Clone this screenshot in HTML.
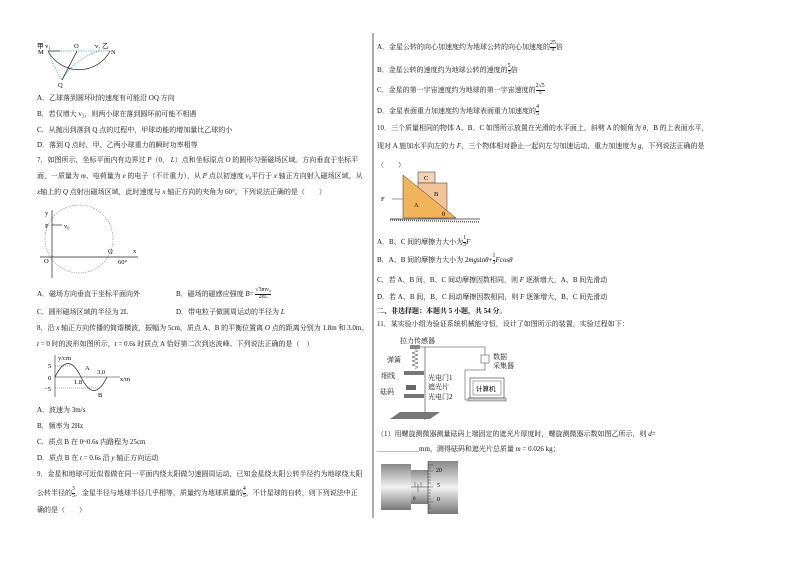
<!DOCTYPE html>
<html><head><meta charset="utf-8"><style>
body{margin:0;width:794px;height:562px;background:#fff;position:relative;overflow:hidden;font-family:"Liberation Serif","Noto Serif CJK SC","Noto Sans CJK SC",serif;color:#111}
.t{position:absolute;font-size:7px;white-space:nowrap;line-height:8px}
svg{position:absolute;left:0;top:0}
.fr{display:inline-block;vertical-align:middle;text-align:center;font-size:5.8px;line-height:5.8px}
.fr span{display:block}
.fr span:first-child{border-bottom:0.5px solid #222}
</style></head><body>
<svg width="794" height="562" font-family="Liberation Serif" font-size="6.5">
<line x1="373" y1="33" x2="373" y2="518" stroke="#333" stroke-width="0.8"/>
<path d="M48 51 A35 35 0 0 0 110 51" fill="none" stroke="#222" stroke-width="0.7"/>
<line x1="48" y1="51" x2="110" y2="51" stroke="#4aa" stroke-dasharray="1.5,1" stroke-width="0.7"/>
<path d="M48 51 Q55 70 62 80" fill="none" stroke="#4aa" stroke-dasharray="1.5,1" stroke-width="0.7"/>
<path d="M100 51 Q75 58 62 80" fill="none" stroke="#4aa" stroke-dasharray="1.5,1" stroke-width="0.7"/>
<line x1="77" y1="51" x2="62" y2="80" stroke="#222" stroke-width="0.8"/>
<line x1="48" y1="51" x2="60" y2="51" stroke="#222" stroke-width="0.7"/>
<text x="37" y="48">甲 v₁</text><text x="74" y="48">O</text><text x="95" y="48">v₂ 乙</text>
<text x="38" y="54">M</text><text x="111" y="54">N</text><text x="58" y="87">Q</text>
<circle cx="79" cy="239" r="34" fill="none" stroke="#888" stroke-dasharray="1.2,1.2" stroke-width="0.7"/>
<line x1="52" y1="210" x2="52" y2="278" stroke="#222" stroke-width="0.7"/>
<line x1="40" y1="257" x2="138" y2="257" stroke="#222" stroke-width="0.7"/>
<line x1="52" y1="225" x2="62" y2="225" stroke="#222" stroke-width="0.7"/>
<text x="45" y="215">y</text><text x="45" y="228">P</text><text x="64" y="228">v₀</text>
<text x="44" y="263">O</text><text x="108" y="253">Q</text><text x="133" y="253">x</text><text x="118" y="264">60°</text>
<line x1="55" y1="355" x2="55" y2="397" stroke="#222" stroke-width="0.6"/>
<line x1="55" y1="377" x2="120" y2="377" stroke="#222" stroke-width="0.6"/>
<path d="M55 377 Q68 350 81 377 Q94 404 107 377" fill="none" stroke="#222" stroke-width="0.7"/>
<line x1="55" y1="366" x2="70" y2="366" stroke="#555" stroke-dasharray="1,1" stroke-width="0.5"/>
<line x1="55" y1="388" x2="100" y2="388" stroke="#555" stroke-dasharray="1,1" stroke-width="0.5"/>
<text x="58" y="360">y/cm</text><text x="48" y="368">5</text><text x="48" y="380">0</text><text x="44" y="391">−5</text>
<text x="85" y="370">A</text><text x="97" y="374">3.0</text><text x="74" y="384">1.8</text><text x="120" y="381">x/m</text><text x="98" y="397">B</text>
<rect x="418" y="172" width="17" height="11" fill="#f3d3b5" stroke="#333" stroke-width="0.5"/>
<rect x="418" y="183" width="29" height="35" fill="#f2c49a" stroke="#333" stroke-width="0.5"/>
<polygon points="403,175 403,218 456,218" fill="#f2b45a" stroke="#333" stroke-width="0.5"/>
<line x1="390" y1="219" x2="480" y2="219" stroke="#333" stroke-width="0.8"/>
<line x1="390" y1="220" x2="480" y2="222" stroke="#555" stroke-dasharray="1,1" stroke-width="1.5"/>
<line x1="392" y1="199" x2="403" y2="199" stroke="#333" stroke-width="0.5"/>
<text x="424" y="180">C</text><text x="434" y="196">B</text><text x="414" y="207">A</text><text x="381" y="201">F</text><text x="442" y="216">θ</text>
<rect x="410" y="345" width="10" height="4" fill="#888"/>
<line x1="425" y1="347" x2="425" y2="420" stroke="#333" stroke-width="0.6"/>
<path d="M415 349 l3 2 l-6 2 l6 2 l-6 2 l6 2 l-6 2 l6 2 l-6 2 l6 2 l-3 2" fill="none" stroke="#333" stroke-width="0.5"/>
<line x1="420" y1="347" x2="485" y2="347" stroke="#333" stroke-width="0.5"/>
<line x1="485" y1="347" x2="485" y2="355" stroke="#333" stroke-width="0.5"/>
<rect x="481" y="355" width="8" height="8" fill="#fff" stroke="#333" stroke-width="0.5"/>
<path d="M485 363 V370 H465 V400 H470" fill="none" stroke="#333" stroke-width="0.5"/>
<rect x="470" y="378" width="34" height="20" fill="#fff" stroke="#333" stroke-width="0.6"/>
<rect x="473" y="381" width="28" height="14" fill="#fff" stroke="#333" stroke-width="0.4"/>
<rect x="468" y="398" width="38" height="3" fill="#ccc" stroke="#333" stroke-width="0.4"/>
<rect x="404" y="371" width="20" height="4" fill="#777"/>
<rect x="406" y="385" width="10" height="5" fill="#666"/>
<rect x="404" y="394" width="20" height="4" fill="#777"/>
<polygon points="390,419 400,412 440,412 430,419" fill="#777"/>
<text x="476" y="391" font-size="6.5">计算机</text>
</svg>

<div class="t" style="left:400px;top:337px">拉力传感器</div>
<div class="t" style="left:387px;top:356px">弹簧</div>
<div class="t" style="left:381px;top:372px">细线</div>
<div class="t" style="left:380px;top:388px">砝码</div>
<div class="t" style="left:428px;top:374px">光电门1</div>
<div class="t" style="left:428px;top:383px">遮光片</div>
<div class="t" style="left:428px;top:393px">光电门2</div>
<div class="t" style="left:493px;top:353px">数据</div>
<div class="t" style="left:493px;top:362px">采集器</div>

<svg width="794" height="562">
<defs><linearGradient id="g" x1="0" y1="0" x2="0" y2="1"><stop offset="0" stop-color="#888"/><stop offset="0.5" stop-color="#f2f2f2"/><stop offset="1" stop-color="#777"/></linearGradient></defs>
<rect x="381" y="464" width="30" height="46" fill="url(#g)"/>
<rect x="411" y="470" width="18" height="34" fill="url(#g)"/>
<rect x="428" y="461" width="30" height="53" fill="url(#g)"/>
<line x1="411" y1="487" x2="429" y2="487" stroke="#222" stroke-width="0.5"/>
<line x1="428" y1="461" x2="428" y2="514" stroke="#222" stroke-width="0.5"/>
<path d="M428 465h5M428 468h3M428 471h5M428 474h3M428 477h3M428 480h3M428 483h3M428 487h5M428 490h3M428 493h3M428 496h3M428 499h3M428 502h5M428 505h3M428 508h3" stroke="#222" stroke-width="0.4"/>
<path d="M415 487v-5M418 487v-3M421 487v-5M418 487v5" stroke="#222" stroke-width="0.4"/>
<text x="436" y="472" font-size="6" font-family="Liberation Serif">20</text>
<text x="437" y="487" font-size="6" font-family="Liberation Serif">5</text>
<text x="437" y="501" font-size="6" font-family="Liberation Serif">0</text>
<text x="413" y="500" font-size="5" font-family="Liberation Serif">0</text>
</svg>

<div class="t" style="left:37px;top:94px">A．乙球落到圆环时的速度有可能沿 OQ 方向</div>
<div class="t" style="left:37px;top:110px">B．若仅增大 v₂，则两小球在落到圆环前可能不相遇</div>
<div class="t" style="left:37px;top:126px">C．从抛出到落到 Q 点的过程中，甲球动能的增加量比乙球的小</div>
<div class="t" style="left:37px;top:141px">D．落到 Q 点时，甲、乙两小球重力的瞬时功率相等</div>
<div class="t" style="left:37px;top:156px">7．如图所示，坐标平面内有边界过 <i>P</i>（0， <i>L</i>）点和坐标原点 <i>O</i> 的圆形匀强磁场区域。方向垂直于坐标平</div>
<div class="t" style="left:37px;top:172px">面，一质量为 <i>m</i>、电荷量为 <i>e</i> 的电子（不计重力），从 <i>P</i> 点以初速度 <i>v</i>₀平行于 <i>x</i> 轴正方向射入磁场区域，从</div>
<div class="t" style="left:37px;top:188px"><i>x</i>轴上的 <i>Q</i> 点射出磁场区域，此时速度与 <i>x</i> 轴正方向的夹角为 60°。下列说法正确的是（　　）</div>
<div class="t" style="left:37px;top:290px">A．磁场方向垂直于坐标平面向外</div>
<div class="t" style="left:176px;top:288px">B．磁场的磁感应强度 <i>B</i>= <span class="fr"><span>√3mv₀</span><span>2eL</span></span></div>
<div class="t" style="left:37px;top:308px">C．圆形磁场区域的半径为 2L</div>
<div class="t" style="left:176px;top:308px">D．带电粒子做圆周运动的半径为 <i>L</i></div>
<div class="t" style="left:37px;top:324px">8．沿 <i>x</i> 轴正方向传播的简谐横波，振幅为 5cm，质点 A、B 的平衡位置离 <i>O</i> 点的距离分别为 1.8m 和 3.0m。</div>
<div class="t" style="left:37px;top:340px"><i>t</i> = 0 时的波形如图所示，<i>t</i> = 0.6s 时质点 A 恰好第二次到达波峰。下列说法正确的是（　）</div>
<div class="t" style="left:37px;top:406px">A．波速为 3m/s</div>
<div class="t" style="left:37px;top:422px">B．频率为 2Hz</div>
<div class="t" style="left:37px;top:438px">C．质点 B 在 0~0.6s 内路程为 25cm</div>
<div class="t" style="left:37px;top:454px">D．质点 B 在 <i>t</i> = 0.6s 沿 <i>y</i> 轴正方向运动</div>
<div class="t" style="left:37px;top:470px">9．金星和地球可近似看做在同一平面内绕太阳做匀速圆周运动，已知金星绕太阳公转半径约为地球绕太阳</div>
<div class="t" style="left:37px;top:487px">公转半径的<span class="fr"><span>3</span><span>5</span></span>，金星半径与地球半径几乎相等，质量约为地球质量的<span class="fr"><span>4</span><span>5</span></span>，不计星球的自转，则下列说法中正</div>
<div class="t" style="left:37px;top:506px">确的是（　　）</div>

<div class="t" style="left:377px;top:41px">A．金星公转的向心加速度约为地球公转的向心加速度的<span class="fr"><span>25</span><span>9</span></span>倍</div>
<div class="t" style="left:377px;top:64px">B．金星公转的速度约为地球公转的速度的<span class="fr"><span>5</span><span>3</span></span>倍</div>
<div class="t" style="left:377px;top:84px">C．金星的第一宇宙速度约为地球的第一宇宙速度的<span class="fr"><span>2√5</span><span>5</span></span></div>
<div class="t" style="left:377px;top:105px">D．金星表面重力加速度约为地球表面重力加速度的<span class="fr"><span>4</span><span>5</span></span></div>
<div class="t" style="left:377px;top:124px">10．三个质量相同的物体 A、B、C 如图所示放置在光滑的水平面上，斜劈 A 的倾角为 <i>θ</i>，B 的上表面水平，</div>
<div class="t" style="left:377px;top:142px">现对 A 施加水平向左的力 <i>F</i>，三个物体相对静止一起向左匀加速运动，重力加速度为 <i>g</i>，下列说法正确的是</div>
<div class="t" style="left:377px;top:161px">（　　）</div>
<div class="t" style="left:377px;top:236px">A．B、C 间的摩擦力大小为<span class="fr"><span>1</span><span>3</span></span><i>F</i></div>
<div class="t" style="left:377px;top:254px">B．A、B 间的摩擦力大小为 2<i>mg</i>sin<i>θ</i>+<span class="fr"><span>1</span><span>3</span></span><i>F</i>cos<i>θ</i></div>
<div class="t" style="left:377px;top:276px">C．若 A、B 间，B、C 间动摩擦因数相同，则 <i>F</i> 逐渐增大，A、B 间先滑动</div>
<div class="t" style="left:377px;top:293px">D．若 A、B 间，B、C 间动摩擦因数相同，则 <i>F</i> 逐渐增大，B、C 间先滑动</div>
<div class="t" style="left:377px;top:307px;font-weight:bold">二、非选择题：本题共 5 小题，共 54 分。</div>
<div class="t" style="left:377px;top:320px">11．某实验小组为验证系统机械能守恒，设计了如图所示的装置，实验过程如下：</div>
<div class="t" style="left:377px;top:430px">（1）用螺旋测微器测量砝码上端固定的遮光片厚度时，螺旋测微器示数如图乙所示，则 <i>d</i>=</div>
<div class="t" style="left:377px;top:445px">＿＿＿＿＿＿mm，测得砝码和遮光片总质量 <i>m</i> = 0.026 kg；</div>
</body></html>
